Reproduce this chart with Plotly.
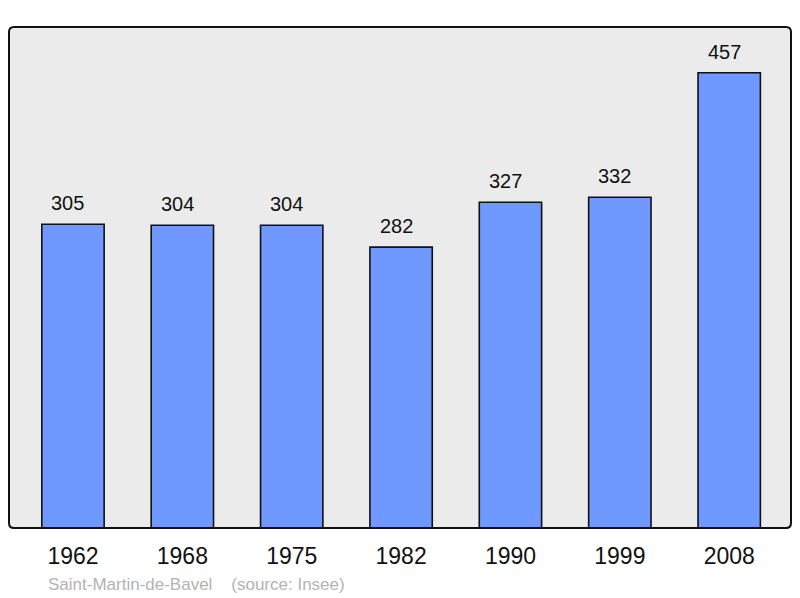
import plotly.graph_objects as go

years = ["1962", "1968", "1975", "1982", "1990", "1999", "2008"]
population = [305, 304, 304, 282, 327, 332, 457]
commune = "Saint-Martin-de-Bavel"
source = "(source: Insee)"

# page body has an 8px margin; compensate
W, H = 792, 590
L, R, T, B = 1, 9, 19, 70
pw, ph = W - L - R, H - T - B

xpos = list(range(len(years)))

fig = go.Figure()
fig.add_trace(go.Bar(
    x=xpos, y=population, width=0.57,
    marker=dict(color="#7099ff", line=dict(color="#111111", width=1.6)),
    hoverinfo="skip",
))

for xi, v in zip(xpos, population):
    fig.add_annotation(x=xi, y=v, text=str(v), showarrow=False, yanchor="middle",
                       yshift=21, xshift=-5,
                       font=dict(size=20, color="#111111", family="Liberation Sans, Arial"))

# rounded border of plot area
r = 5
rx, ry = r / pw, r / ph
path = (f"M {rx},0 L {1-rx},0 Q 1,0 1,{ry} L 1,{1-ry} Q 1,1 {1-rx},1 "
        f"L {rx},1 Q 0,1 0,{1-ry} L 0,{ry} Q 0,0 {rx},0 Z")
fig.add_shape(type="path", path=path, xref="paper", yref="paper",
              line=dict(color="#111111", width=2), layer="above")

fig.add_annotation(text=commune + "&nbsp;&nbsp;&nbsp;&nbsp;" + source, xref="paper", yref="paper",
                   x=(46 - 9) / pw, y=-(584 - 528) / ph, xanchor="left", yanchor="middle",
                   showarrow=False, font=dict(size=17, color="#b3b3b3", family="Liberation Sans, Arial"))

fig.update_layout(
    width=W, height=H,
    margin=dict(l=L, r=R, t=T, b=B),
    paper_bgcolor="white", plot_bgcolor="#ebebeb",
    showlegend=False,
    font=dict(family="Liberation Sans, Arial", color="#111111"),
    xaxis=dict(range=[-0.585, 6.565], tickmode="array", tickvals=xpos, ticktext=years,
               showgrid=False, zeroline=False, showline=False, ticks="",
               tickfont=dict(size=23, color="#111111"), ticklabelstandoff=12),
    yaxis=dict(range=[0, 503], showgrid=False, zeroline=False, showticklabels=False,
               showline=False, ticks=""),
)

fig.write_html("out.html")
